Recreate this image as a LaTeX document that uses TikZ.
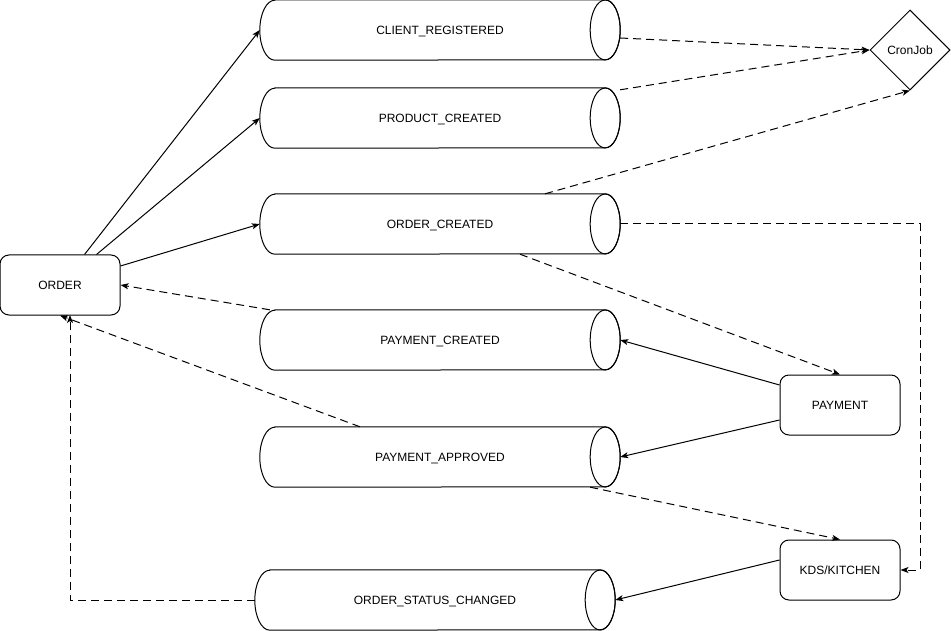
\documentclass[tikz,border=0pt]{standalone}
\usepackage{fontspec}
\setmainfont{Liberation Sans}
\usetikzlibrary{arrows.meta,calc,shapes.geometric}
\tikzset{
  lbl/.style={font=\fontsize{12}{14}\selectfont,text height=8.6pt,text depth=0pt},
  topic/.style={lbl,draw=none,minimum width=360pt,minimum height=60pt,inner sep=0pt},
  svc/.style={lbl,draw,line width=1pt,rounded corners=9pt,minimum width=120pt,minimum height=60pt,inner sep=0pt},
  cron/.style={lbl,draw,line width=1pt,diamond,minimum width=80pt,minimum height=80pt,inner sep=0pt},
  flow/.style={line width=1pt,-{Stealth[length=8pt,width=6pt,inset=2pt]}},
  evt/.style={flow,dash pattern=on 8pt off 5pt},
}
\newcommand{\cyl}[1]{%
  \draw[line width=1pt] ([xshift=15pt]#1.north west) -- ([xshift=-15pt]#1.north east)
     arc[start angle=90,end angle=-90,x radius=15pt,y radius=30pt]
     -- ([xshift=15pt]#1.south west)
     arc[start angle=270,end angle=90,x radius=15pt,y radius=30pt] -- cycle;
  \draw[line width=1pt] ([xshift=-15pt]#1.east) ellipse[x radius=15pt,y radius=30pt];}
\begin{document}
\begin{tikzpicture}[x=1pt,y=-1pt]
\useasboundingbox (0,0) rectangle (951,631);
\node[topic] (cr)  at (440,30)  {CLIENT\_REGISTERED};
\node[topic] (pc)  at (440,118) {PRODUCT\_CREATED};
\node[topic] (oc)  at (440,224) {ORDER\_CREATED};
\node[topic] (pcr) at (440,340) {PAYMENT\_CREATED};
\node[topic] (pa)  at (440,457) {PAYMENT\_APPROVED};
\node[topic] (osc) at (435,600) {ORDER\_STATUS\_CHANGED};
\cyl{cr}\cyl{pc}\cyl{oc}\cyl{pcr}\cyl{pa}\cyl{osc}
\node[svc] (order) at (60,285) {ORDER};
\node[svc] (pay) at (840,405) {PAYMENT};
\node[svc] (kds) at (840,570) {KDS/KITCHEN};
\node[cron] (cj) at (910,50) {CronJob};
\coordinate (c1) at (920,224);
\coordinate (c2) at (920,570);
\coordinate (c3) at (70,600);
\coordinate (c4) at (70,315);
% solid
\draw[flow] ($(order.north west)+(85,0)$) -- (cr.west);
\draw[flow] ($(order.north west)+(97,0)$) -- (pc.west);
\draw[flow] ($(order.east)+(0,-19)$) -- (oc.west);
\draw[flow] ($(pay.west)+(0,-20)$) -- (pcr.east);
\draw[flow] ($(pay.west)+(0,15)$) -- (pa.east);
\draw[flow] ($(kds.west)+(0,-10)$) -- (osc.east);
% dashed
\draw[evt] ($(cr.east)+(0,8)$) -- (cj.west);
\draw[evt] ($(pc.north east)+(0,2)$) -- (cj.west);
\draw[evt] ($(oc.north)+(105,0)$) -- (cj.south);
\draw[evt] (oc.east) -- (c1) -- (c2) -- (kds.east);
\draw[evt] ($(oc.south)+(80,0)$) -- (pay.north);
\draw[evt] ($(pcr.north west)+(10,0)$) -- (order.east);
\draw[evt] ($(pa.north)+(-80,0)$) -- (order.south);
\draw[evt] (osc.west) -- (c3) -- (c4);
\draw[evt] ($(pa.south east)+(-30,0)$) -- (kds.north);
\end{tikzpicture}
\end{document}
